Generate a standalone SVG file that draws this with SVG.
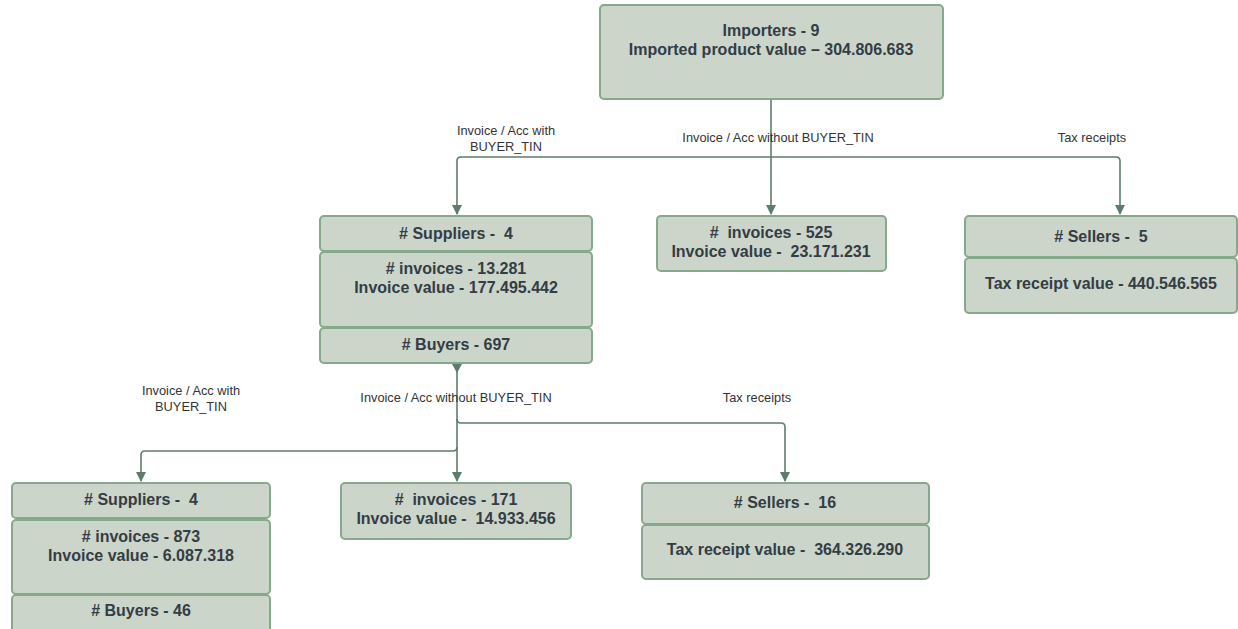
<svg xmlns="http://www.w3.org/2000/svg" width="1238" height="629" viewBox="0 0 1238 629">
<defs>
<style>
text{white-space:pre}
.box{fill:#ccd5c9;stroke:#86a98c;stroke-width:2}
.t{font-family:"Liberation Sans",Arial,sans-serif;font-weight:bold;font-size:16px;fill:#333d45;text-anchor:middle}
.l{font-family:"Liberation Sans",Arial,sans-serif;font-size:12.8px;fill:#333;text-anchor:middle}
.c{fill:none;stroke:#5d7d6c;stroke-width:1.6}
</style>
<marker id="ah" viewBox="0 0 10 10" refX="9" refY="5" markerWidth="11" markerHeight="10" markerUnits="userSpaceOnUse" orient="auto"><path d="M0,0 L10,5 L0,10 z" fill="#5d7d6c"/></marker>
</defs>
<rect width="1238" height="629" fill="#fff"/>
<g id="connectors">
<path class="c" d="M771,99 V214" marker-end="url(#ah)"/>
<path class="c" d="M771,157 H461 Q457,157 457,161 V214" marker-end="url(#ah)"/>
<path class="c" d="M771,157 H1116 Q1120,157 1120,161 V214" marker-end="url(#ah)"/>
<path class="c" d="M457,364 V481" marker-end="url(#ah)"/>
<path class="c" d="M457,447 Q457,451 453,451 H145 Q141,451 141,455 V481" marker-end="url(#ah)"/>
<path class="c" d="M457,419 Q457,423 461,423 H781 Q785,423 785,427 V481" marker-end="url(#ah)"/>
<path d="M452,364 L462,364 L457,373 z" fill="#5d7d6c"/>
<text class="l" x="506" y="135">Invoice / Acc with</text>
<text class="l" x="506" y="151">BUYER_TIN</text>
<text class="l" x="778" y="142">Invoice / Acc without BUYER_TIN</text>
<text class="l" x="1092" y="142">Tax receipts</text>
<text class="l" x="191" y="395">Invoice / Acc with</text>
<text class="l" x="191" y="411">BUYER_TIN</text>
<text class="l" x="456" y="402">Invoice / Acc without BUYER_TIN</text>
<text class="l" x="757" y="402">Tax receipts</text>
</g>
<g id="importers">
<rect class="box" x="600" y="5" width="343" height="94" rx="4"/>
<text class="t" x="771" y="36">Importers - 9</text>
<text class="t" x="771" y="55">Imported product value – 304.806.683</text>
</g>
<g id="suppliers1">
<rect class="box" x="320" y="216" width="272" height="35" rx="4"/>
<text class="t" x="456" y="239"># Suppliers -  4</text>
</g>
<g id="invoices1">
<rect class="box" x="320" y="252" width="272" height="75" rx="4"/>
<text class="t" x="456" y="274"># invoices - 13.281</text>
<text class="t" x="456" y="293">Invoice value - 177.495.442</text>
</g>
<g id="buyers1">
<rect class="box" x="320" y="328" width="272" height="35" rx="4"/>
<text class="t" x="456" y="350"># Buyers - 697</text>
</g>
<g id="noTin1">
<rect class="box" x="657" y="216" width="229" height="55" rx="4"/>
<text class="t" x="771" y="238">#  invoices - 525</text>
<text class="t" x="771" y="257">Invoice value -  23.171.231</text>
</g>
<g id="sellers1">
<rect class="box" x="965" y="216" width="272" height="41" rx="4"/>
<text class="t" x="1101" y="242"># Sellers -  5</text>
</g>
<g id="tax1">
<rect class="box" x="965" y="258" width="272" height="55" rx="4"/>
<text class="t" x="1101" y="289">Tax receipt value - 440.546.565</text>
</g>
<g id="suppliers2">
<rect class="box" x="12" y="483" width="258" height="35" rx="4"/>
<text class="t" x="141" y="505"># Suppliers -  4</text>
</g>
<g id="invoices2">
<rect class="box" x="12" y="520" width="258" height="74" rx="4"/>
<text class="t" x="141" y="542"># invoices - 873</text>
<text class="t" x="141" y="561">Invoice value - 6.087.318</text>
</g>
<g id="buyers2">
<rect class="box" x="12" y="595" width="258" height="40" rx="4"/>
<text class="t" x="141" y="616"># Buyers - 46</text>
</g>
<g id="noTin2">
<rect class="box" x="341" y="483" width="230" height="56" rx="4"/>
<text class="t" x="456" y="505">#  invoices - 171</text>
<text class="t" x="456" y="524">Invoice value -  14.933.456</text>
</g>
<g id="sellers2">
<rect class="box" x="642" y="483" width="287" height="41" rx="4"/>
<text class="t" x="785" y="508"># Sellers -  16</text>
</g>
<g id="tax2">
<rect class="box" x="642" y="525" width="287" height="54" rx="4"/>
<text class="t" x="785" y="555">Tax receipt value -  364.326.290</text>
</g>
</svg>
